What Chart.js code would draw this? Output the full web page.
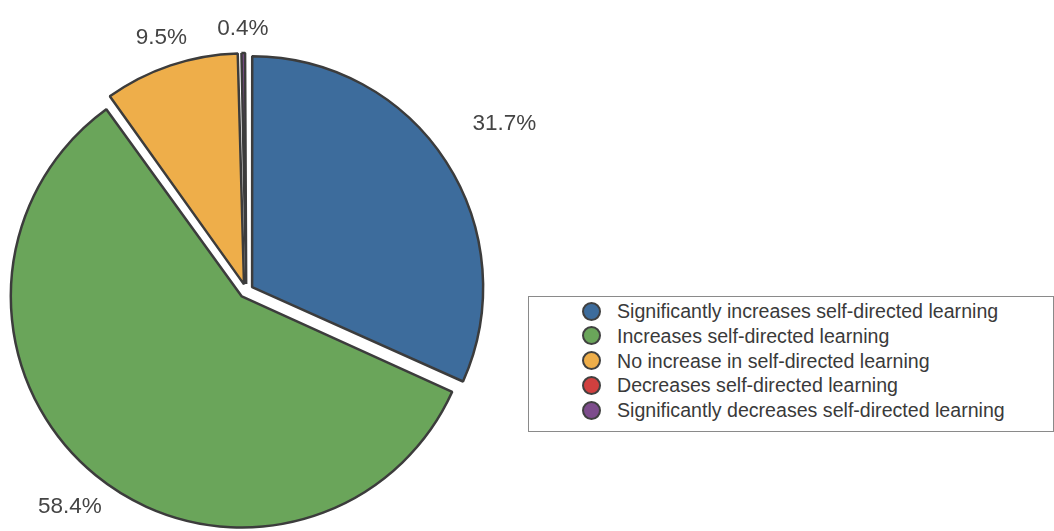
<!DOCTYPE html>
<html>
<head>
<meta charset="utf-8">
<script src="https://cdn.jsdelivr.net/npm/chart.js@4.4.1/dist/chart.umd.min.js"></script>
<style>
  html, body { margin: 0; padding: 0; background: #fff; overflow: hidden; }
  #wrap { position: absolute; left: 0; top: 0; width: 1054px; height: 560px; }
  #legend {
    position: absolute; left: 528px; top: 296px; width: 526px; height: 136px;
    box-sizing: border-box; border: 1px solid #8a8a8a; background: #fff;
    font-family: "Liberation Sans", Arial, sans-serif; font-size: 19.6px; color: #3a3a3a;
    padding-top: 2px;
  }
  .item { height: 24.8px; line-height: 24.8px; white-space: nowrap; position: relative; padding-left: 88px; }
  .dot {
    position: absolute; left: 53px; top: 2.5px; width: 15px; height: 15px;
    border: 2.5px solid #404040; border-radius: 50%;
  }
</style>
</head>
<body>
<div id="wrap"><canvas id="myChart"></canvas></div>
<div id="legend"></div>
<script>
const categories = [
  'Significantly increases self-directed learning',
  'Increases self-directed learning',
  'No increase in self-directed learning',
  'Decreases self-directed learning',
  'Significantly decreases self-directed learning'
];
const shares = [31.7, 58.4, 9.5, 0.0, 0.4];
const sliceColors = ['#3d6c9c', '#6aa55a', '#eeae4a', '#d0403f', '#7d4c8c'];

// legend
const legendBox = document.getElementById('legend');
categories.forEach((name, i) => {
  const row = document.createElement('div');
  row.className = 'item';
  row.innerHTML = '<span class="dot" style="background:' + sliceColors[i] + '"></span>' + name;
  legendBox.appendChild(row);
});

// Chart.js grows exploded arcs by offset*(1-sin(circ)); undo it so all slices share one radius
const sameRadius = {
  id: 'sameRadius',
  afterDatasetUpdate(chart, args) {
    args.meta.data.forEach(arc => {
      const off = (arc.options.offset || 0) / 4;
      const fix = 1 - Math.sin(Math.min(Math.PI, arc.circumference || 0));
      arc.outerRadius -= off * fix;
    });
  }
};

const pctLabels = {
  id: 'pctLabels',
  afterDatasetsDraw(chart, args, opts) {
    const ctx = chart.ctx;
    const meta = chart.getDatasetMeta(0);
    ctx.save();
    ctx.font = '22.5px "Liberation Sans", Arial, sans-serif';
    ctx.fillStyle = '#444';
    ctx.textAlign = 'center';
    ctx.textBaseline = 'middle';
    meta.data.forEach((arc, i) => {
      const v = chart.data.datasets[0].data[i];
      if (!v) return;
      const mid = (arc.startAngle + arc.endAngle) / 2;
      const r = arc.outerRadius * opts.dist[i];
      ctx.fillText(v.toFixed(1) + '%', arc.x + Math.cos(mid) * r, arc.y + Math.sin(mid) * r);
    });
    ctx.restore();
  }
};

const ctx = document.getElementById('myChart').getContext('2d');
new Chart(ctx, {
  type: 'pie',
  data: {
    labels: categories,
    datasets: [{
      data: shares,
      backgroundColor: sliceColors,
      borderColor: '#3c3c3c',
      borderWidth: 2.5,
      offset: 28
    }]
  },
  options: {
    responsive: true,
    maintainAspectRatio: false,
    animation: false,
    layout: { padding: { left: 0, right: 561.5, top: 44.75, bottom: 22.75 } },
    plugins: {
      legend: { display: false },
      tooltip: { enabled: false },
      pctLabels: { dist: [1.335, 1.245, 1.17, 1.17, 1.17] }
    }
  },
  plugins: [sameRadius, pctLabels]
});
</script>
</body>
</html>
